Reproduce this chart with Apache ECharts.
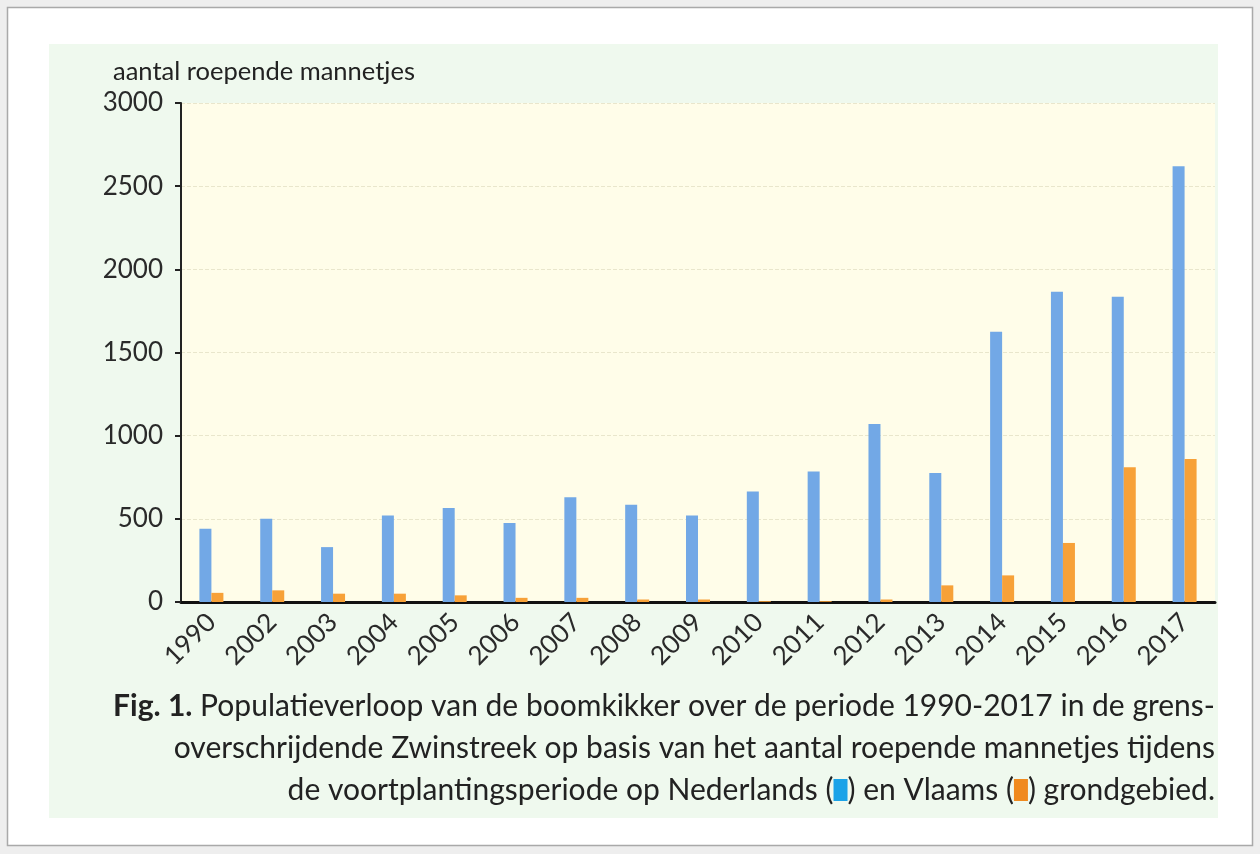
<!DOCTYPE html>
<html>
<head>
<meta charset="utf-8">
<script src="https://cdn.jsdelivr.net/npm/echarts@6/dist/echarts.min.js"></script>
<style>
html,body{margin:0;padding:0;background:#eeeeee;}
#c{width:1260px;height:854px;}
</style>
</head>
<body>
<div id="c"></div>
<script>
const years = ['1990','2002','2003','2004','2005','2006','2007','2008','2009','2010','2011','2012','2013','2014','2015','2016','2017'];
const nederland = [440, 500, 330, 520, 565, 475, 630, 585, 520, 665, 785, 1070, 775, 1625, 1865, 1835, 2620];
const vlaanderen = [55, 70, 50, 50, 40, 25, 25, 15, 15, 5, 5, 15, 100, 160, 355, 810, 860];
const yTicks = [0, 500, 1000, 1500, 2000, 2500, 3000];
const axisTitle = 'aantal roepende mannetjes';
const captionLines = [
  '{b|Fig. 1.} Populatieverloop van de boomkikker over de periode 1990-2017 in de grens-',
  'overschrijdende Zwinstreek op basis van het aantal roepende mannetjes tijdens',
  'de voortplantingsperiode op Nederlands ({nl| }) en Vlaams ({vl| }) grondgebied.'
];

const FONT = 'Lato, "Open Sans", sans-serif';
const chart = echarts.init(document.getElementById('c'));
const capRich = {
  b: {fontWeight: 'bold', fontSize: 30, fontFamily: FONT, color: '#222'},
  nl: {backgroundColor: '#1aa3e8', width: 14, height: 22},
  vl: {backgroundColor: '#f08a1e', width: 14, height: 22}
};
const capY = [715, 757, 799];
const option = {
  backgroundColor: 'transparent',
  animation: false,
  graphic: [
    {type: 'rect', z: -20, shape: {x: 7.5, y: 7.5, width: 1245, height: 838}, style: {fill: '#ffffff', stroke: '#a9a9a9', lineWidth: 1.5}},
    {type: 'rect', z: -19, shape: {x: 49, y: 44, width: 1169, height: 774}, style: {fill: '#eff9ee'}},
    {type: 'text', z: 5, x: 113, y: 72, style: {text: axisTitle, font: '25.5px ' + FONT, fill: '#222', textVerticalAlign: 'middle'}},
  ].concat(captionLines.map((t, i) => ({
    type: 'text', z: 5, x: 1215, y: capY[i] - 9,
    style: {text: t, rich: capRich, fontSize: 30, fontFamily: FONT, fill: '#222', textAlign: 'right', textVerticalAlign: 'middle'}
  }))),
  grid: {left: 181, right: 45, top: 103, bottom: 252, show: true, backgroundColor: '#fffde9', borderWidth: 0, containLabel: false},
  xAxis: {
    type: 'category', data: years,
    axisLine: {show: true, lineStyle: {color: '#111', width: 3}},
    axisTick: {show: false},
    axisLabel: {rotate: 45, fontSize: 26, fontFamily: FONT, color: '#2a2a2a', margin: 16},
    splitLine: {show: false}
  },
  yAxis: {
    type: 'value', min: 0, max: 3000, interval: 500,
    axisLine: {show: true, lineStyle: {color: '#222', width: 2}},
    axisTick: {show: true, length: 6, lineStyle: {color: '#222', width: 2}},
    axisLabel: {fontSize: 26, fontFamily: FONT, color: '#2a2a2a', margin: 18,
      formatter: v => yTicks.includes(v) ? String(v) : ''},
    splitLine: {show: true, lineStyle: {color: '#e9e6cc', type: 'dashed', width: 1}}
  },
  series: [
    {type: 'bar', name: 'Nederlands', data: nederland, barWidth: 12, barGap: '0%', itemStyle: {color: '#72a8e6'}},
    {type: 'bar', name: 'Vlaams', data: vlaanderen, barWidth: 12, barGap: '0%', itemStyle: {color: '#f7a138'}}
  ]
};
chart.setOption(option);
</script>
</body>
</html>
